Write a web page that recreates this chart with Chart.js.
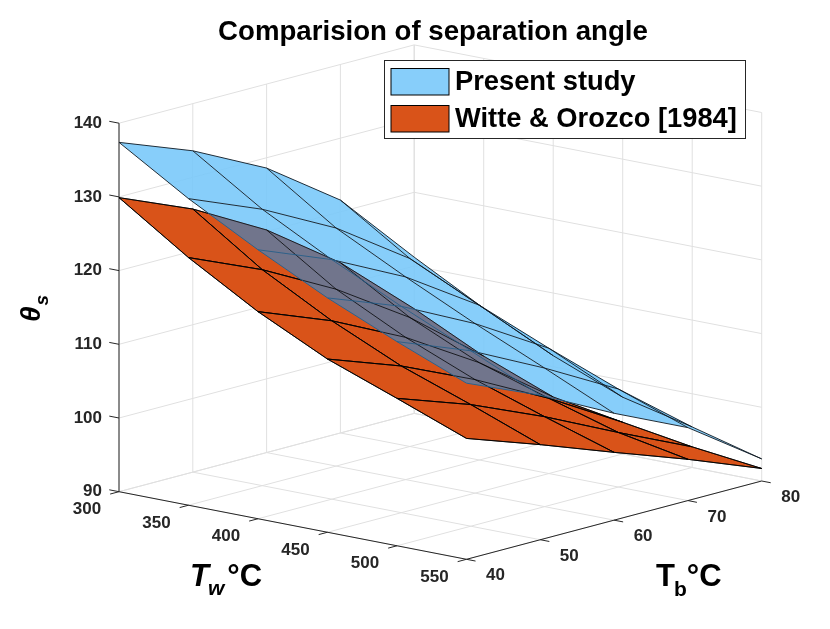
<!DOCTYPE html>
<html>
<head>
<meta charset="utf-8">
<script src="https://cdn.jsdelivr.net/npm/chart.js@4.4.0/dist/chart.umd.min.js"></script>
<style>
html,body{margin:0;padding:0;background:#ffffff;}
#wrap{width:830px;height:629px;position:relative;}
</style>
</head>
<body>
<div id="wrap"><canvas id="c" width="830" height="629"></canvas></div>
<script>
// ---------------- data ----------------
const titleText = 'Comparision of separation angle';
const seriesNames = ['Present study', 'Witte & Orozco [1984]'];
const twValues = [300, 350, 400, 450, 500, 550];   // wall temperature Tw (°C)
const tbValues = [40, 50, 60, 70, 80];             // bulk temperature Tb (°C)
// separation angle θs, one row per Tw value, columns follow tbValues
const presentStudy = [
  [137.4, 133.6, 128.6, 121.6, 111.2],
  [131.6, 127.5, 122.3, 115.5, 106.1],
  [126.5, 122.5, 117.5, 111.0, 101.5],
  [121.8, 118.0, 113.0, 107.0,  97.7],
  [117.7, 113.8, 108.8, 103.3,  95.5],
  [113.9, 109.6, 104.5,  99.9,  93.0]
];
const witteOrozco = [
  [129.9, 125.7, 120.2, 113.1, 104.2],
  [123.6, 119.3, 114.0, 107.5,  99.6],
  [118.1, 114.2, 109.3, 103.2,  95.9],
  [113.5, 109.9, 105.4, 100.2,  94.3],
  [110.0, 106.5, 102.2,  97.4,  92.8],
  [106.4, 102.9,  99.2,  95.6,  91.7]
];
const twTicks = [300, 350, 400, 450, 500, 550];
const tbTicks = [40, 50, 60, 70, 80];
const zTicks  = [90, 100, 110, 120, 130, 140];
const twRange = [300, 550];
const tbRange = [40, 80];
const zRange  = [90, 140];

// ---------------- view / style ----------------
const VIEW = { ox: 119, oy: 491.7, twx: 347.5, twy: 67.6, tbx: 295.2, tby: -78.3, zy: -368.5 };
const DEPTH = { u: -289.8, v: 335.7, w: -86.0 };
const ORANGE = '#D95319';
const GRAY = '#71758C';
const LIGHTBLUE = 'rgba(122,201,249,0.9)';
const SWATCH_BLUE = '#87CEFA';
const FONT = '"Liberation Sans", Arial, Helvetica, sans-serif';

function norm(v, r) { return (v - r[0]) / (r[1] - r[0]); }
function project(tw, tb, z) {
  const u = norm(tw, twRange), v = norm(tb, tbRange), w = norm(z, zRange);
  return { x: VIEW.ox + u * VIEW.twx + v * VIEW.tbx, y: VIEW.oy + u * VIEW.twy + v * VIEW.tby + w * VIEW.zy };
}
function depth(tw, tb, z) {
  return DEPTH.u * norm(tw, twRange) + DEPTH.v * norm(tb, tbRange) + DEPTH.w * norm(z, zRange);
}
const GAP = { x: null, y: null };

function quads(grid) {
  const out = [];
  for (let i = 0; i < twValues.length - 1; i++) {
    for (let j = 0; j < tbValues.length - 1; j++) {
      const idx = [[i, j], [i + 1, j], [i + 1, j + 1], [i, j + 1], [i, j]];
      const pts = idx.map(([a, b]) => project(twValues[a], tbValues[b], grid[a][b]));
      let d = 0;
      idx.slice(0, 4).forEach(([a, b]) => { d += depth(twValues[a], tbValues[b], grid[a][b]) / 4; });
      out.push({ pts, d });
    }
  }
  out.sort((p, q) => q.d - p.d);
  return out;
}
function meshLines(grid) {
  const pts = [];
  for (let i = 0; i < twValues.length; i++) {
    for (let j = 0; j < tbValues.length; j++) pts.push(project(twValues[i], tbValues[j], grid[i][j]));
    pts.push(GAP);
  }
  for (let j = 0; j < tbValues.length; j++) {
    for (let i = 0; i < twValues.length; i++) pts.push(project(twValues[i], tbValues[j], grid[i][j]));
    pts.push(GAP);
  }
  return pts;
}
function segs(list) {
  const pts = [];
  list.forEach(([a, b]) => { pts.push(project(...a)); pts.push(project(...b)); pts.push(GAP); });
  return pts;
}

// box grid lines
const gridSegs = [];
tbTicks.forEach(tb => gridSegs.push([[twRange[0], tb, zRange[0]], [twRange[1], tb, zRange[0]]]));
twTicks.forEach(tw => gridSegs.push([[tw, tbRange[0], zRange[0]], [tw, tbRange[1], zRange[0]]]));
tbTicks.forEach(tb => gridSegs.push([[twRange[0], tb, zRange[0]], [twRange[0], tb, zRange[1]]]));
zTicks.forEach(z => gridSegs.push([[twRange[0], tbRange[0], z], [twRange[0], tbRange[1], z]]));
twTicks.forEach(tw => gridSegs.push([[tw, tbRange[1], zRange[0]], [tw, tbRange[1], zRange[1]]]));
zTicks.forEach(z => gridSegs.push([[twRange[0], tbRange[1], z], [twRange[1], tbRange[1], z]]));

const axisSegs = [
  [[twRange[0], tbRange[0], zRange[0]], [twRange[1], tbRange[0], zRange[0]]],
  [[twRange[1], tbRange[0], zRange[0]], [twRange[1], tbRange[1], zRange[0]]],
  [[twRange[0], tbRange[0], zRange[0]], [twRange[0], tbRange[0], zRange[1]]]
];
const tickSegs = [];
twTicks.forEach(tw => tickSegs.push([[tw, tbRange[0], zRange[0]], [tw, tbRange[0] - 1.2, zRange[0]]]));
tbTicks.forEach(tb => tickSegs.push([[twRange[1], tb, zRange[0]], [twRange[1] + 6.5, tb, zRange[0]]]));
zTicks.forEach(z => tickSegs.push([[twRange[0], tbRange[0], z], [twRange[0] - 7, tbRange[0], z]]));

// ---------------- datasets in draw sequence ----------------
const seq = [];
function add(ds) {
  seq.push(Object.assign({
    pointRadius: 0, pointHoverRadius: 0, tension: 0, spanGaps: false,
    fill: false, borderWidth: 1, borderColor: 'rgba(0,0,0,0)', backgroundColor: 'rgba(0,0,0,0)'
  }, ds));
}
quads(witteOrozco).forEach(q => add({ label: seriesNames[1], data: q.pts, fill: 'shape', backgroundColor: ORANGE, borderColor: '#000000', borderWidth: 0.9, gco: 'source-over' }));
quads(presentStudy).forEach(q => add({ label: seriesNames[0], data: q.pts, fill: 'shape', backgroundColor: GRAY, gco: 'source-atop' }));
add({ label: 'mesh2', data: meshLines(witteOrozco), borderColor: 'rgba(0,0,0,0.85)', borderWidth: 0.9, gco: 'source-over' });
add({ label: 'mesh1a', data: meshLines(presentStudy), borderColor: '#1f5f8f', borderWidth: 0.9, gco: 'source-atop' });
add({ label: 'mesh1b', data: meshLines(presentStudy), borderColor: '#0d1720', borderWidth: 0.9, gco: 'destination-over' });
quads(presentStudy).forEach(q => add({ label: seriesNames[0], data: q.pts, fill: 'shape', backgroundColor: LIGHTBLUE, gco: 'destination-over' }));
add({ label: 'axes', data: segs(axisSegs), borderColor: '#262626', borderWidth: 1, gco: 'destination-over' });
add({ label: 'ticks', data: segs(tickSegs), borderColor: '#262626', borderWidth: 1, gco: 'destination-over' });
add({ label: 'grid', data: segs(gridSegs), borderColor: '#e0e0e0', borderWidth: 1, gco: 'destination-over' });
seq.forEach((d, s) => { d.order = seq.length - s; });

// ---------------- plugins ----------------
const compositePlugin = {
  id: 'composite',
  beforeDatasetsDraw(chart) {
    const metas = chart.getSortedVisibleDatasetMetas();
    chart.ctx.save();
    const first = metas[metas.length - 1];
    chart.ctx.globalCompositeOperation = (first && chart.data.datasets[first.index].gco) || 'source-over';
  },
  afterDatasetDraw(chart, args) {
    const metas = chart.getSortedVisibleDatasetMetas();
    const pos = metas.indexOf(args.meta);
    const next = pos > 0 ? metas[pos - 1] : null;
    chart.ctx.globalCompositeOperation = (next && chart.data.datasets[next.index].gco) || 'source-over';
  },
  afterDatasetsDraw(chart) {
    chart.ctx.globalCompositeOperation = 'source-over';
    chart.ctx.restore();
  }
};

function fitFont(ctx, text, weight, target, base) {
  ctx.font = weight + ' ' + base + 'px ' + FONT;
  const w = ctx.measureText(text).width;
  return base * target / w;
}

const textPlugin = {
  id: 'texts',
  afterDraw(chart) {
    const ctx = chart.ctx;
    const xs = chart.scales.x, ys = chart.scales.y;
    const P = (tw, tb, z) => { const p = project(tw, tb, z); return { x: xs.getPixelForValue(p.x), y: ys.getPixelForValue(p.y) }; };
    ctx.save();
    ctx.fillStyle = '#262626';
    // z tick labels
    ctx.font = 'bold 17px ' + FONT;
    ctx.textAlign = 'right'; ctx.textBaseline = 'middle';
    zTicks.forEach(z => { const p = P(twRange[0], tbRange[0], z); ctx.fillText(String(z), p.x - 17, p.y); });
    // Tw tick labels
    ctx.textAlign = 'center';
    twTicks.forEach(tw => { const p = P(tw, tbRange[0], zRange[0]); ctx.fillText(String(tw), p.x - 32, p.y + 18); });
    // Tb tick labels
    tbTicks.forEach(tb => { const p = P(twRange[1], tb, zRange[0]); ctx.fillText(String(tb), p.x + 29, p.y + 16.5); });

    ctx.fillStyle = '#000000';
    // axis label θs (rotated)
    ctx.save();
    ctx.translate(40, 322);
    ctx.rotate(-Math.PI / 2);
    ctx.textAlign = 'left'; ctx.textBaseline = 'alphabetic';
    ctx.font = 'italic bold 28px ' + FONT;
    ctx.fillText('θ', 0, 0);
    const tw0 = ctx.measureText('θ').width;
    ctx.font = 'italic bold 19px ' + FONT;
    ctx.fillText('s', tw0 + 1, 8);
    ctx.restore();

    // Tw °C label
    ctx.textAlign = 'left'; ctx.textBaseline = 'alphabetic';
    let x = 190;
    const by = 586;
    ctx.font = 'italic bold 31px ' + FONT;
    ctx.fillText('T', x, by); x += ctx.measureText('T').width;
    ctx.font = 'italic bold 21px ' + FONT;
    ctx.fillText('w', x - 1, by + 9); x += ctx.measureText('w').width + 2;
    ctx.font = 'bold 31px ' + FONT;
    ctx.fillText('°C', x, by);

    // Tb °C label
    x = 656;
    ctx.font = 'bold 31px ' + FONT;
    ctx.fillText('T', x, by); x += ctx.measureText('T').width;
    ctx.font = 'bold 21px ' + FONT;
    ctx.fillText('b', x - 1, by + 10); x += ctx.measureText('b').width - 1;
    ctx.font = 'bold 31px ' + FONT;
    ctx.fillText('°C', x, by);

    // title
    const tsize = fitFont(ctx, titleText, 'bold', 430, 24);
    ctx.font = 'bold ' + tsize.toFixed(2) + 'px ' + FONT;
    ctx.textAlign = 'center'; ctx.textBaseline = 'middle';
    ctx.fillText(titleText, 433, 32);

    // legend
    ctx.fillStyle = '#ffffff';
    ctx.fillRect(384.5, 60.5, 361, 78);
    ctx.strokeStyle = '#262626'; ctx.lineWidth = 1;
    ctx.strokeRect(384.5, 60.5, 361, 78);
    const sw = [[SWATCH_BLUE, 68.5], [ORANGE, 105.5]];
    sw.forEach(([c, y]) => {
      ctx.fillStyle = c; ctx.fillRect(391, y, 58, 26.5);
      ctx.strokeStyle = '#000000'; ctx.strokeRect(391, y, 58, 26.5);
    });
    const lsize = fitFont(ctx, seriesNames[1], 'bold', 282, 26);
    ctx.font = 'bold ' + lsize.toFixed(2) + 'px ' + FONT;
    ctx.fillStyle = '#000000';
    ctx.textAlign = 'left'; ctx.textBaseline = 'middle';
    ctx.fillText(seriesNames[0], 455, 82.5);
    ctx.fillText(seriesNames[1], 455, 119.5);
    ctx.restore();
  }
};

new Chart(document.getElementById('c'), {
  type: 'line',
  data: { datasets: seq },
  options: {
    responsive: false,
    animation: false,
    events: [],
    layout: { padding: 0 },
    plugins: { legend: { display: false }, title: { display: false }, tooltip: { enabled: false } },
    scales: {
      x: { type: 'linear', min: 0, max: 830, display: false },
      y: { type: 'linear', min: 0, max: 629, reverse: true, display: false }
    }
  },
  plugins: [compositePlugin, textPlugin]
});
</script>
</body>
</html>
